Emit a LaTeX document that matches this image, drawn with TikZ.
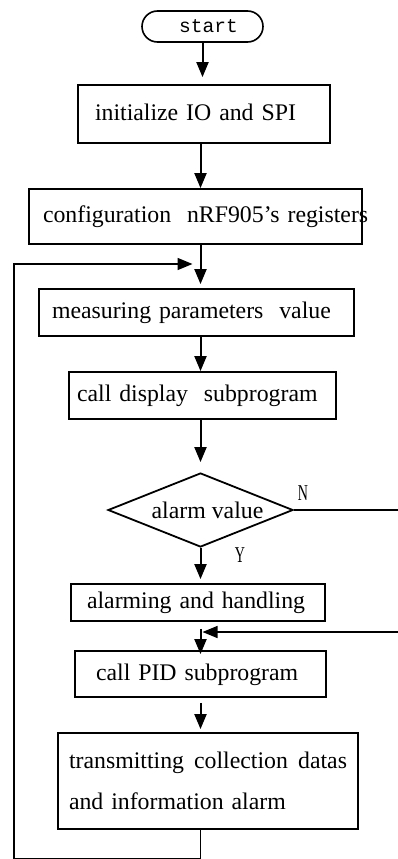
\documentclass[tikz,border=0pt]{standalone}
\usepackage{fontspec}
\usepackage{graphicx}
\setmainfont{Liberation Serif}
\setmonofont{Liberation Mono}
\usetikzlibrary{shapes.geometric,shapes.misc,arrows.meta}

\begin{document}
\begin{tikzpicture}[x=1pt,y=-1pt,
  every node/.style={font=\fontsize{23.8}{41}\selectfont},
  box/.style={draw,rectangle,line width=1.8pt,align=left,inner ysep=0pt},
  oneline/.style={box,text height=17pt,text depth=5pt},
  arrow/.style={line width=2pt,-{Triangle[length=15pt,width=12pt]}},
  lbl/.style={font=\fontsize{22.6}{23}\selectfont,inner sep=0pt}]
  \useasboundingbox (0,0) rectangle (397,859);

  \node[rounded rectangle,draw,line width=1.6pt,minimum width=121pt,minimum height=31pt,
    inner sep=0pt,font=\ttfamily\fontsize{19.5}{20}\selectfont] (start) at (202.5,26.5)
    {\hspace*{12pt}start};
  \node[oneline,minimum height=58pt,inner xsep=17pt,text width=218pt] (init) at (204,114)
    {initialize IO and SPI};
  \node[oneline,minimum height=55pt,inner xsep=14pt,text width=305pt] (config) at (195.5,216.5)
    {\mbox{configuration\ \ nRF905’s registers}};
  \node[oneline,minimum height=47pt,inner xsep=13pt,text width=289pt] (meas) at (196.5,312.5)
    {measuring parameters\ \ value};
  \node[oneline,minimum height=47pt,inner xsep=8pt,text width=251pt] (disp) at (202.5,395.5)
    {call display\ \ subprogram};
  \node[diamond,draw,line width=1.8pt,minimum width=185pt,minimum height=74pt,
    inner sep=0pt,aspect=2.5] (dec) at (200.5,510) {\hspace*{14pt}alarm value};
  \node[oneline,minimum height=37pt,inner xsep=16pt,text width=222pt] (alarm) at (198,602.5)
    {alarming and handling};
  \node[oneline,minimum height=46pt,inner xsep=21pt,text width=209pt] (pid) at (200.5,674)
    {call PID subprogram};
  \node[box,minimum height=96pt,inner xsep=11pt,text width=278pt] (send) at (208,781)
    {transmitting\hfill collection\hfill datas\\and information alarm};

  \node[lbl] (nlab) at (303,493) {\scalebox{0.62}[1]{N}};
  \node[lbl] (ylab) at (240,555) {\scalebox{0.62}[1]{Y}};

  \coordinate (spine) at (200.5,0);
  \coordinate (loopin) at (200.5,264);
  \coordinate (back) at (14,859);
  \coordinate (nout) at (401,511);
  \coordinate (nin) at (401,632);

  \draw[arrow,shorten >=7pt] (start.south) -- (start.south |- init.north);
  \draw[arrow] (spine |- init.south) -- (spine |- config.north);
  \draw[arrow,shorten >=4pt] (spine |- config.south) -- (spine |- meas.north);
  \draw[arrow] (spine |- meas.south) -- (spine |- disp.north);
  \draw[arrow,shorten >=10pt] (spine |- disp.south) -- (dec.north);
  \draw[arrow,shorten >=4pt] (dec.south) -- (spine |- alarm.north);
  \draw[arrow,shorten <=7pt,shorten >=-4pt] (spine |- alarm.south) -- (spine |- pid.north);
  \draw[arrow,shorten <=5pt,shorten >=3pt] (spine |- pid.south) -- (spine |- send.north);
  \draw[arrow,line width=1.3pt,shorten >=2pt] (dec.east) -- (dec.east -| nout) -- (nin) -- (spine |- nin);
  \draw[arrow,line width=1.5pt,shorten >=8pt] (spine |- send.south) |- (back) |- (loopin);
\end{tikzpicture}
\end{document}
